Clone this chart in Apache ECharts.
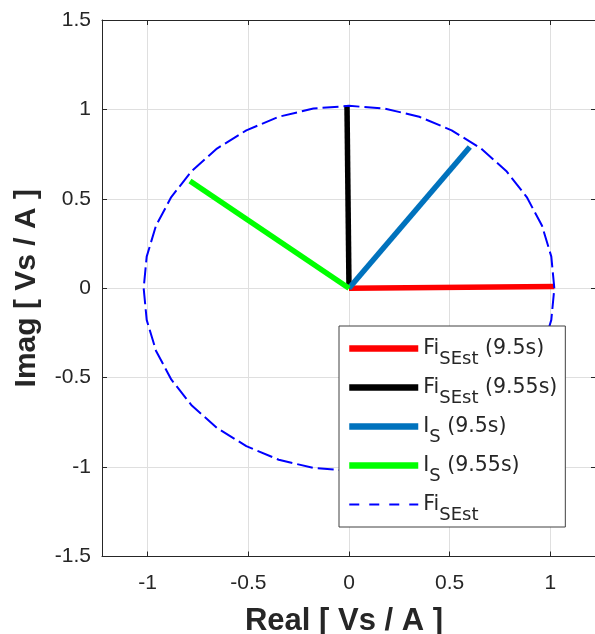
<!DOCTYPE html>
<html><head><meta charset="utf-8">
<script src="https://cdn.jsdelivr.net/npm/echarts@6/dist/echarts.min.js"></script>
<style>html,body{margin:0;padding:0;background:#fff}#c{width:595px;height:634px}</style>
</head><body><div id="c"></div>
<script>
// ---- data ----
const xTicks = [-1, -0.5, 0, 0.5, 1];
const yTicks = [-1.5, -1, -0.5, 0, 0.5, 1, 1.5];
const seriesNames = ['FiSEst (9.5s)', 'FiSEst (9.55s)', 'IS (9.5s)', 'IS (9.55s)', 'FiSEst'];
const legendLabels = [
  '{m|Fi}{s|SEst}{m| (9.5s)}',
  '{m|Fi}{s|SEst}{m| (9.55s)}',
  '{m|I}{s|S}{m| (9.5s)}',
  '{m|I}{s|S}{m| (9.55s)}',
  '{m|Fi}{s|SEst}'
];
const fiSEst95 = [[0, 0], [1.02, 0.01]];
const fiSEst955 = [[0, 0], [-0.01, 1.02]];
const iS95 = [[0, 0], [0.60, 0.79]];
const iS955 = [[0, 0], [-0.79, 0.60]];
const fiSEstTrace = [
  [1.020, 0.000], [1.005, 0.177], [0.959, 0.349], [0.883, 0.510], [0.781, 0.656],
  [0.656, 0.781], [0.510, 0.883], [0.349, 0.959], [0.177, 1.005], [0.000, 1.020],
  [-0.177, 1.005], [-0.349, 0.959], [-0.510, 0.883], [-0.656, 0.781], [-0.781, 0.656],
  [-0.883, 0.510], [-0.959, 0.349], [-1.005, 0.177], [-1.020, 0.000], [-1.005, -0.177],
  [-0.959, -0.349], [-0.883, -0.510], [-0.781, -0.656], [-0.656, -0.781], [-0.510, -0.883],
  [-0.349, -0.959], [-0.177, -1.005], [0.000, -1.020], [0.177, -1.005], [0.349, -0.959],
  [0.510, -0.883], [0.656, -0.781], [0.781, -0.656], [0.883, -0.510], [0.959, -0.349],
  [1.005, -0.177], [1.020, 0.000]
];
const seriesColors = ['#ff0000', '#000000', '#0072bd', '#00ff00', '#0000ff'];

// ---- chart ----
const FONT = 'Liberation Sans, Arial, sans-serif';
const LFONT = 'DejaVu Sans, sans-serif';
const AX = '#262626';
const labelMap = {};
seriesNames.forEach((n, i) => { labelMap[n] = legendLabels[i]; });

function vecSeries(i, data) {
  return {
    name: seriesNames[i], type: 'line', data: data, symbol: 'none', showSymbol: false,
    lineStyle: { color: seriesColors[i], width: 5.5 }, itemStyle: { color: seriesColors[i] },
    animation: false, silent: true
  };
}

const legendData = seriesNames.map((n, i) => ({
  name: n,
  itemStyle: { opacity: 0 },
  lineStyle: i < 4 ? { width: 6.5, color: seriesColors[i] } : { width: 2, color: seriesColors[i], type: [10, 10] }
}));

const chart = echarts.init(document.getElementById('c'), null, { renderer: 'canvas' });
chart.setOption({
  backgroundColor: '#ffffff',
  animation: false,
  grid: { left: 102, top: 20, right: -1, bottom: 77.5, containLabel: false, outerBoundsMode: 'none' },
  xAxis: [{
    type: 'value', position: 'bottom', min: -1.227, max: 1.227,
    axisLine: { show: true, onZero: false, lineStyle: { color: AX, width: 1 } },
    axisTick: { show: true, inside: true, length: 5, customValues: xTicks, lineStyle: { color: AX } },
    axisLabel: { customValues: xTicks, fontSize: 21, color: AX, fontFamily: FONT, margin: 16 },
    splitLine: { show: true, lineStyle: { color: '#dfdfdf', width: 1 } },
    name: 'Real [ Vs / A ]', nameLocation: 'middle', nameGap: 49,
    nameTextStyle: { fontSize: 31, fontWeight: 'bold', color: AX, fontFamily: FONT, padding: [0, 10, 0, 0] }
  }, {
    type: 'value', position: 'top', min: -1.227, max: 1.227,
    axisLine: { show: true, onZero: false, lineStyle: { color: AX, width: 1 } },
    axisTick: { show: true, inside: true, length: 5, customValues: xTicks, lineStyle: { color: AX } },
    axisLabel: { show: false }, splitLine: { show: false }
  }],
  yAxis: [{
    type: 'value', position: 'left', min: -1.5, max: 1.5, interval: 0.5,
    axisLine: { show: true, onZero: false, lineStyle: { color: AX, width: 1 } },
    axisTick: { show: true, inside: true, length: 5, customValues: yTicks, lineStyle: { color: AX } },
    axisLabel: { customValues: yTicks, fontSize: 21, color: AX, fontFamily: FONT, margin: 11 },
    splitLine: { show: true, lineStyle: { color: '#dfdfdf', width: 1 } },
    name: 'Imag [ Vs / A ]', nameLocation: 'middle', nameGap: 60,
    nameTextStyle: { fontSize: 30, fontWeight: 'bold', color: AX, fontFamily: FONT }
  }, {
    type: 'value', position: 'right', min: -1.5, max: 1.5, interval: 0.5,
    axisLine: { show: true, onZero: false, lineStyle: { color: AX, width: 1 } },
    axisTick: { show: true, inside: true, length: 5, customValues: yTicks, lineStyle: { color: AX } },
    axisLabel: { show: false }, splitLine: { show: false }
  }],
  legend: {
    orient: 'vertical', left: 339, top: 326,
    padding: [3, 8, 3, 7], itemGap: 0, itemWidth: 69, itemHeight: 14,
    backgroundColor: '#ffffff', borderColor: '#404040', borderWidth: 1, borderRadius: 0,
    data: legendData, selectedMode: false,
    formatter: function (name) { return labelMap[name]; },
    textStyle: {
      color: AX, fontFamily: LFONT, fontSize: 20.5,
      rich: {
        m: { fontSize: 20.5, lineHeight: 39, color: AX, fontFamily: LFONT },
        s: { fontSize: 18, lineHeight: 18, padding: [21, 0, 0, 0], color: AX, fontFamily: LFONT }
      }
    }
  },
  series: [
    vecSeries(0, fiSEst95),
    vecSeries(1, fiSEst955),
    vecSeries(2, iS95),
    vecSeries(3, iS955),
    {
      name: seriesNames[4], type: 'line', data: fiSEstTrace, symbol: 'none', showSymbol: false,
      lineStyle: { color: seriesColors[4], width: 2, type: [16, 5] }, itemStyle: { color: seriesColors[4] },
      animation: false, silent: true
    }
  ]
});
</script>
</body></html>
